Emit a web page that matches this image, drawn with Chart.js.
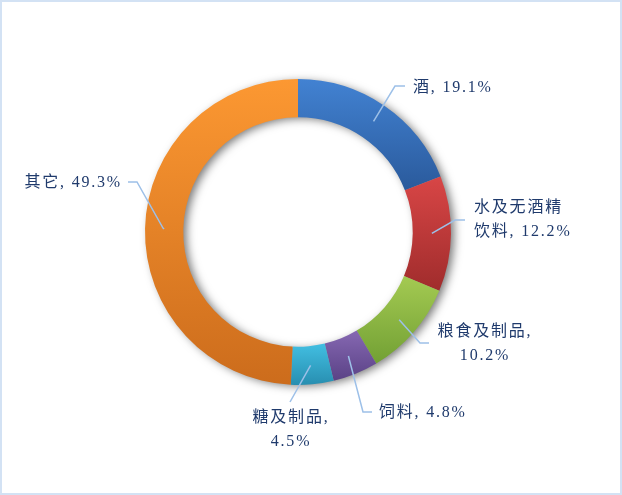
<!DOCTYPE html>
<html>
<head>
<meta charset="utf-8">
<script src="https://cdn.jsdelivr.net/npm/chart.js@4/dist/chart.umd.min.js"></script>
<style>
  body { margin: 0; background: #fff; }
  canvas { display: block; }
</style>
</head>
<body>
<canvas id="grafico" width="622" height="495"></canvas>
<script>
// Dados do gráfico
const categorias = ["酒", "水及无酒精饮料", "粮食及制品", "饲料", "糖及制品", "其它"];
const valores = [19.1, 12.2, 10.2, 4.8, 4.5, 49.3];

// Cores de cada fatia (topo, base do degradê)
const coresTopo = ["#4282d2", "#d84646", "#a4ca52", "#8668b2", "#42bfe2", "#fc9832"];
const coresBase = ["#2a5a9c", "#a02c2c", "#72a034", "#5a4286", "#288eb0", "#cc6c1c"];

// Posição dos rótulos (linha guia + texto), wrap = caracteres na 1a linha
const rotulos = [
    { pts: [[395, 86], [405, 86]], x: 413, y: 88, align: "left" },
    { pts: [[455, 220], [465, 220]], x: 474, y: 208, align: "left", wrap: 5 },
    { pts: [[420, 343], [429, 343]], x: 485, y: 332, align: "center", wrap: 6 },
    { pts: [[363, 412], [372, 412]], x: 379, y: 413, align: "left" },
    { pts: [[290, 402]], x: 291, y: 418, align: "center", wrap: 5 },
    { pts: [[163, 228], [137, 182], [128, 182]], x: 122, y: 183, align: "right" }
];

const CUTOUT = 0.75;

function degrade(context) {
    const chart = context.chart;
    const i = context.dataIndex;
    const ca = chart.chartArea;
    if (!ca) return coresTopo[i];
    const cx = (ca.left + ca.right) / 2, cy = (ca.top + ca.bottom) / 2;
    const R = Math.min(ca.width, ca.height) / 2, r = R * CUTOUT;
    const total = valores.reduce((a, b) => a + b, 0);
    let antes = 0;
    for (let k = 0; k < i; k++) antes += valores[k];
    const a0 = -Math.PI / 2 + 2 * Math.PI * antes / total;
    const a1 = a0 + 2 * Math.PI * valores[i] / total;
    let yMin = Infinity, yMax = -Infinity;
    for (let s = 0; s <= 40; s++) {
        const a = a0 + (a1 - a0) * s / 40;
        [R, r].forEach((rr) => {
            const y = cy + rr * Math.sin(a);
            yMin = Math.min(yMin, y);
            yMax = Math.max(yMax, y);
        });
    }
    const g = chart.ctx.createLinearGradient(0, yMin, 0, yMax);
    g.addColorStop(0, coresTopo[i]);
    g.addColorStop(1, coresBase[i]);
    return g;
}

// Sombra do anel + moldura
const sombraPlugin = {
    id: "sombra",
    beforeDatasetsDraw(chart) {
        const ctx = chart.ctx;
        const arc = chart.getDatasetMeta(0).data[0];
        if (!arc) return;
        const { x, y, outerRadius, innerRadius } = arc.getProps(["x", "y", "outerRadius", "innerRadius"], true);
        ctx.save();
        ctx.shadowColor = "rgba(0,0,0,0.55)";
        ctx.shadowBlur = 10;
        ctx.shadowOffsetX = 4;
        ctx.shadowOffsetY = 2;
        ctx.beginPath();
        ctx.arc(x, y, outerRadius - 1, 0, Math.PI * 2);
        ctx.arc(x, y, innerRadius + 1, 0, Math.PI * 2, true);
        ctx.fillStyle = "#999";
        ctx.fill("evenodd");
        ctx.restore();
    },
    afterDraw(chart) {
        const ctx = chart.ctx;
        ctx.save();
        ctx.strokeStyle = "#d3e2f4";
        ctx.lineWidth = 2;
        ctx.strokeRect(1, 1, chart.width - 2, chart.height - 2);
        ctx.restore();
    }
};

// Rótulos com linhas guia
const rotulosPlugin = {
    id: "rotulos",
    afterDatasetsDraw(chart) {
        const ctx = chart.ctx;
        const meta = chart.getDatasetMeta(0);
        ctx.save();
        meta.data.forEach((arc, i) => {
            const cfg = rotulos[i];
            const p = arc.tooltipPosition(true);
            ctx.beginPath();
            ctx.moveTo(p.x, p.y);
            cfg.pts.forEach((pt) => ctx.lineTo(pt[0], pt[1]));
            ctx.strokeStyle = "#9dc0e8";
            ctx.lineWidth = 1.5;
            ctx.stroke();

            const texto = categorias[i] + ", " + valores[i].toFixed(1) + "%";
            const linhas = cfg.wrap ? [texto.slice(0, cfg.wrap), texto.slice(cfg.wrap).trim()] : [texto];
            ctx.font = "16px 'Liberation Serif', 'Noto Sans CJK SC', serif";
            ctx.letterSpacing = "1.8px";
            ctx.fillStyle = "#1f3a6c";
            ctx.textAlign = cfg.align;
            ctx.textBaseline = "middle";
            linhas.forEach((l, k) => ctx.fillText(l, cfg.x, cfg.y + k * 24));
        });
        ctx.restore();
    }
};

new Chart(document.getElementById("grafico"), {
    type: "doughnut",
    data: {
        labels: categorias,
        datasets: [{
            data: valores,
            backgroundColor: degrade,
            borderWidth: 0
        }]
    },
    options: {
        responsive: false,
        animation: false,
        cutout: "75%",
        layout: { padding: { left: 144.5, right: 170.5, top: 79, bottom: 110 } },
        plugins: {
            legend: { display: false },
            tooltip: { enabled: false }
        }
    },
    plugins: [sombraPlugin, rotulosPlugin]
});
</script>
</body>
</html>
